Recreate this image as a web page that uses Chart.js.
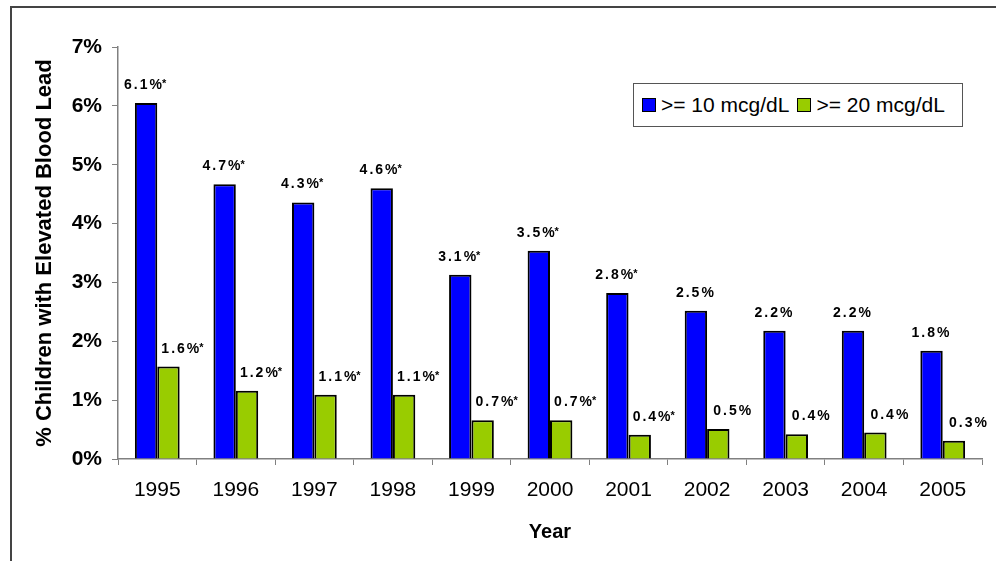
<!DOCTYPE html>
<html lang="en">
<head>
  <meta charset="UTF-8">
  <title>Children with Elevated Blood Lead</title>
  <script src="https://cdn.jsdelivr.net/npm/chart.js"></script>
  <style>
    body { margin: 0; background: #fff; font-family: Arial, "Liberation Sans", sans-serif; }
    #wrap { position: relative; width: 996px; height: 561px; overflow: hidden; }
    #frame { position: absolute; left: 10px; top: 6px; width: 1000px; height: 600px;
             border-left: 2px solid #444; border-top: 2px solid #444; }
    #legend { position: absolute; left: 633px; top: 83px; width: 328px; height: 42px;
              border: 1px solid #555; background: #fff; display: flex; align-items: center;
              font-size: 21px; color: #000; }
    .item { display: flex; align-items: center; }
    .sw { width: 12px; height: 12px; border: 1.5px solid #000; margin: 0 5px 0 8px; }
  </style>
</head>
<body>
  <div id="wrap">
    <div id="frame"></div>
    <canvas id="leadChart" width="996" height="561"></canvas>
    <div id="legend">
      <div class="item"><span class="sw" style="background:#0000ff"></span>&gt;= 10 mcg/dL</div>
      <div class="item"><span class="sw" style="background:#99cc00"></span>&gt;= 20 mcg/dL</div>
    </div>
  </div>

  <script>
    const years = ["1995", "1996", "1997", "1998", "1999", "2000", "2001", "2002", "2003", "2004", "2005"];
    const over10 = [6.05, 4.67, 4.36, 4.60, 3.13, 3.54, 2.82, 2.52, 2.18, 2.18, 1.84];
    const over20 = [1.57, 1.16, 1.09, 1.09, 0.66, 0.66, 0.41, 0.51, 0.42, 0.45, 0.31];
    const over10Labels = ["6.1%*", "4.7%*", "4.3%*", "4.6%*", "3.1%*", "3.5%*", "2.8%*", "2.5%", "2.2%", "2.2%", "1.8%"];
    const over20Labels = ["1.6%*", "1.2%*", "1.1%*", "1.1%*", "0.7%*", "0.7%*", "0.4%*", "0.5%", "0.4%", "0.4%", "0.3%"];
    const yMax = 7;

    const FONT = 'Arial, "Liberation Sans", sans-serif';

    // value labels above each bar, the asterisk drawn small and raised
    const barLabels = {
      id: "barLabels",
      afterDatasetsDraw(chart) {
        const ctx = chart.ctx;
        const sets = [over10Labels, over20Labels];
        const shift = [0, 15];
        sets.forEach((labels, i) => {
          chart.getDatasetMeta(i).data.forEach((bar, j) => {
            const txt = labels[j];
            const star = txt.endsWith("*");
            const main = star ? txt.slice(0, -1) : txt;
            ctx.save();
            ctx.fillStyle = "#000";
            ctx.textAlign = "left";
            ctx.textBaseline = "alphabetic";
            ctx.font = "bold 14px " + FONT;
            ctx.letterSpacing = "2px";
            const w1 = ctx.measureText(main).width;
            ctx.font = "bold 11px " + FONT;
            ctx.letterSpacing = "0px";
            const w2 = star ? ctx.measureText("*").width : 0;
            let x = bar.x + shift[i] - (w1 + w2) / 2;
            const y = bar.y - 14;
            ctx.font = "bold 14px " + FONT;
            ctx.letterSpacing = "2px";
            ctx.fillText(main, x, y);
            if (star) {
              ctx.font = "bold 11px " + FONT;
              ctx.letterSpacing = "0px";
              ctx.fillText("*", x + w1 - 2, y - 2);
            }
            ctx.restore();
          });
        });
      }
    };

    new Chart(document.getElementById("leadChart"), {
      type: "bar",
      data: {
        labels: years,
        datasets: [
          { label: ">= 10 mcg/dL", data: over10, backgroundColor: "#0000ff",
            borderColor: "#000", borderWidth: 2, borderSkipped: "bottom",
            barPercentage: 1, categoryPercentage: 0.57 },
          { label: ">= 20 mcg/dL", data: over20, backgroundColor: "#99cc00",
            borderColor: "#000", borderWidth: 2, borderSkipped: "bottom",
            barPercentage: 1, categoryPercentage: 0.57 }
        ]
      },
      options: {
        responsive: false,
        animation: false,
        layout: { padding: { left: 0, top: 47, right: 14, bottom: 0 } },
        plugins: { legend: { display: false }, tooltip: { enabled: false } },
        scales: {
          x: {
            grid: { drawOnChartArea: false, tickLength: 6, color: "#808080" },
            border: { color: "#808080", width: 1.5 },
            ticks: { color: "#000", font: { family: FONT, size: 21 }, padding: 13, maxRotation: 0 },
            title: { display: true, text: "Year", color: "#000",
                     font: { family: FONT, size: 20, weight: "bold" }, padding: { bottom: 17 } },
            afterFit(scale) { scale.height = 102; }
          },
          y: {
            min: 0, max: yMax,
            grid: { drawOnChartArea: false, tickLength: 6, color: "#808080" },
            border: { color: "#808080", width: 1.5 },
            ticks: { stepSize: 1, color: "#000", padding: 10,
                     font: { family: FONT, size: 21, weight: "bold" },
                     callback: v => v + "%" },
            title: { display: true, text: "% Children with Elevated Blood Lead", color: "#000",
                     font: { family: FONT, size: 22, weight: "bold" }, padding: { top: 32 } },
            afterFit(scale) { scale.width = 118; }
          }
        }
      },
      plugins: [barLabels]
    });
  </script>
</body>
</html>
